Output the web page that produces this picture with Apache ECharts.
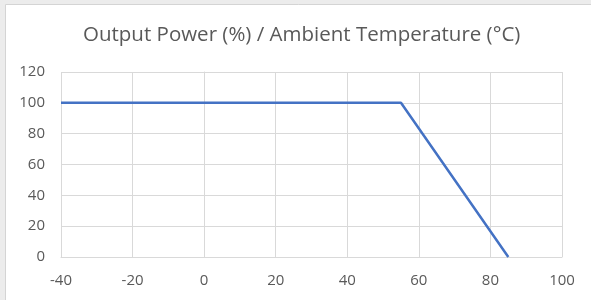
<!DOCTYPE html>
<html><head><meta charset="utf-8">
<script src="https://cdn.jsdelivr.net/npm/echarts@6/dist/echarts.min.js"></script>
<style>html,body{margin:0;padding:0;background:#ececec;}#c{width:591px;height:300px;}</style>
</head><body><div id="c"></div>
<script>
const titleText = 'Output Power (%) / Ambient Temperature (°C)';
const temperature = [-40, 55, 85];
const outputPower = [100, 100, 0];
const xTicks = [-40, -20, 0, 20, 40, 60, 80, 100];
const yTicks = [0, 20, 40, 60, 80, 100, 120];

const chart = echarts.init(document.getElementById('c'), null, {renderer: 'canvas'});
const font = '"Open Sans", "Liberation Sans", sans-serif';
chart.setOption({
  backgroundColor: '#ececec',
  animation: false,
  graphic: [{
    type: 'rect', z: -10, silent: true,
    shape: {x: 5.5, y: 4.5, width: 700, height: 400},
    style: {fill: '#ffffff', stroke: '#d4d4d4', lineWidth: 1}
  }],
  title: {
    text: titleText, left: 83, top: 25,
    padding: 0,
    textStyle: {fontFamily: font, fontSize: 20.5, fontWeight: 'normal', color: '#595959'}
  },
  grid: {left: 61, right: 29, top: 72, bottom: 43, containLabel: false},
  xAxis: {
    type: 'value', min: xTicks[0], max: xTicks[xTicks.length - 1], interval: 20,
    axisLine: {show: true, lineStyle: {color: '#d9d9d9', width: 1}},
    axisTick: {show: false},
    axisLabel: {fontFamily: font, fontSize: 15, color: '#595959', margin: 16},
    splitLine: {show: true, lineStyle: {color: '#d9d9d9', width: 1}}
  },
  yAxis: {
    type: 'value', min: yTicks[0], max: yTicks[yTicks.length - 1], interval: 20,
    axisLine: {show: true, lineStyle: {color: '#d9d9d9', width: 1}},
    axisTick: {show: false},
    axisLabel: {fontFamily: font, fontSize: 15, color: '#595959', margin: 16},
    splitLine: {show: true, lineStyle: {color: '#d9d9d9', width: 1}}
  },
  series: [{
    type: 'line',
    data: temperature.map((t, i) => [t, outputPower[i]]),
    showSymbol: false, symbol: 'none',
    lineStyle: {color: '#4472c4', width: 2.5}
  }]
});
</script></body></html>
